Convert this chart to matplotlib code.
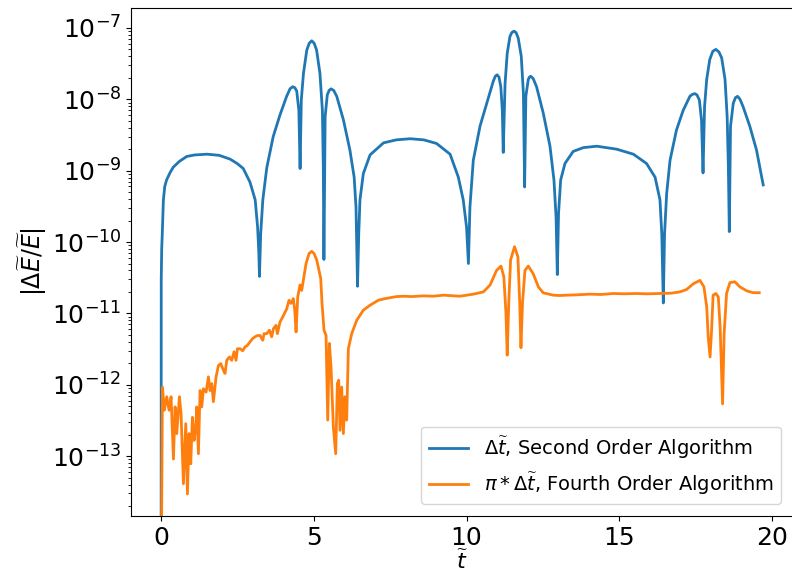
import matplotlib
matplotlib.use("Agg")
import matplotlib.pyplot as plt

# Second order algorithm, step dt
blue_t = [0.0, 0.005, 0.02, 0.04, 0.075, 0.12, 0.18, 0.3, 0.4, 0.6, 0.84, 1.1, 1.5, 1.9,
          2.26, 2.5, 2.69, 2.91, 3.08, 3.16, 3.2, 3.22,
          3.26, 3.33, 3.46, 3.67, 3.89, 4.11, 4.22, 4.31, 4.38, 4.44, 4.51, 4.55,
          4.59, 4.66, 4.77, 4.85, 4.93, 5.01, 5.09, 5.2, 5.28, 5.31, 5.33,
          5.37, 5.44, 5.50, 5.56, 5.65, 5.75, 5.97, 6.18, 6.32, 6.38, 6.43,
          6.47, 6.51, 6.62, 6.84, 7.28, 7.7, 8.15, 8.6, 9.02, 9.46, 9.73, 9.89, 10.0, 10.06,
          10.11, 10.22, 10.44, 10.66, 10.87, 10.94, 11.0, 11.06, 11.12, 11.17, 11.2,
          11.26, 11.33, 11.42, 11.48, 11.55, 11.62, 11.69, 11.79, 11.86, 11.9,
          11.94, 12.02, 12.06, 12.1, 12.18, 12.29, 12.51, 12.73, 12.86, 12.93, 12.97,
          13.01, 13.08, 13.22, 13.49, 13.82, 14.26, 14.91, 15.46, 15.89, 16.17, 16.33, 16.39, 16.44,
          16.48, 16.55, 16.66, 16.87, 17.09, 17.31, 17.39, 17.47, 17.54, 17.62, 17.69, 17.74,
          17.79, 17.86, 17.96, 18.06, 18.16, 18.26, 18.35, 18.46, 18.53, 18.57, 18.6,
          18.64, 18.73, 18.8, 18.87, 18.95, 19.05, 19.27, 19.49, 19.71]
blue_e = [1e-16, 3e-11, 8e-11, 1.35e-10, 3.9e-10, 6e-10, 7.4e-10, 9.5e-10, 1.12e-9, 1.35e-9,
          1.58e-9, 1.66e-9, 1.70e-9, 1.64e-9,
          1.45e-9, 1.25e-9, 1.07e-9, 6.9e-10, 3.9e-10, 1.6e-10, 7e-11, 3.3e-11,
          1.3e-10, 3.9e-10, 1.1e-9, 3.0e-9, 6.0e-9, 1.1e-8, 1.4e-8, 1.5e-8, 1.45e-8, 1.3e-8, 7e-9, 1.07e-9,
          9.8e-9, 2.3e-8, 4.9e-8, 6.1e-8, 6.6e-8, 6.1e-8, 4.9e-8, 2.3e-8, 7e-9, 1.1e-9, 5.7e-11,
          5.7e-9, 1.15e-8, 1.33e-8, 1.4e-8, 1.33e-8, 1.1e-8, 5.1e-9, 1.95e-9, 8.1e-10, 3.1e-10, 2.4e-11,
          1.3e-10, 3.9e-10, 9.1e-10, 1.66e-9, 2.45e-9, 2.7e-9, 2.8e-9, 2.7e-9, 2.4e-9, 1.7e-9,
          8.1e-10, 3.9e-10, 1.6e-10, 5e-11,
          3.1e-10, 1.4e-9, 4.2e-9, 8.8e-9, 1.77e-8, 2.1e-8, 2.2e-8, 2.05e-8, 1.5e-8, 7e-9, 1.8e-9,
          1.67e-8, 4.4e-8, 7.6e-8, 8.6e-8, 9e-8, 8.6e-8, 7.2e-8, 4e-8, 1.2e-8, 5.9e-10,
          1.1e-8, 1.9e-8, 2.05e-8, 2.1e-8, 1.95e-8, 1.5e-8, 6.4e-9, 2.2e-9, 7.4e-10, 2.2e-10, 3.5e-11,
          2.5e-10, 7.4e-10, 1.26e-9, 1.86e-9, 2.1e-9, 2.2e-9, 2.0e-9, 1.7e-9, 1.26e-9, 8.1e-10,
          3.9e-10, 1.3e-10, 1.4e-11,
          1.3e-10, 4.8e-10, 1.4e-9, 3.7e-9, 7e-9, 1.1e-8, 1.17e-8, 1.2e-8, 1.15e-8, 9.8e-9, 5.1e-9, 9.3e-10,
          7.9e-9, 1.9e-8, 3.6e-8, 4.7e-8, 5e-8, 4.6e-8, 3.8e-8, 1.9e-8, 5.7e-9, 1.1e-9, 1.4e-10,
          4.2e-9, 8.8e-9, 1.05e-8, 1.1e-8, 1.0e-8, 7.9e-9, 4.2e-9, 1.95e-9, 6.3e-10]

# Fourth order algorithm, step pi*dt
orange_t = [0.0, 0.044, 0.109, 0.185, 0.262, 0.327, 0.404, 0.458, 0.513, 0.60, 0.654, 0.731,
            0.807, 0.862, 0.916, 0.971, 1.025, 1.08, 1.134, 1.167, 1.222, 1.276, 1.331, 1.385,
            1.473, 1.549, 1.603, 1.658, 1.712, 1.80, 1.876, 1.952, 2.04, 2.094, 2.149, 2.236,
            2.312, 2.389, 2.454, 2.498, 2.585, 2.672, 2.749, 2.825, 2.912, 3.0, 3.076, 3.152,
            3.24, 3.327, 3.37, 3.458, 3.545, 3.621, 3.676, 3.763, 3.807, 3.894, 3.981, 4.058,
            4.112, 4.188, 4.254, 4.33, 4.374, 4.418, 4.472, 4.548, 4.603, 4.657, 4.745, 4.843,
            4.93, 5.007, 5.094, 5.17, 5.225, 5.268, 5.334, 5.40, 5.454, 5.508, 5.563, 5.639,
            5.716, 5.77, 5.814, 5.857, 5.912, 5.966, 6.021, 6.075, 6.13, 6.24, 6.403, 6.621,
            6.839, 7.112, 7.3, 7.494, 7.7, 7.93, 8.2, 8.584, 8.9, 9.24, 9.5, 9.78, 10.0, 10.22,
            10.55, 10.77, 10.98, 11.125, 11.22, 11.29, 11.33, 11.38, 11.44, 11.57, 11.68, 11.74,
            11.78, 11.83, 11.91, 12.02, 12.18, 12.35, 12.51, 12.84, 13.05, 13.28, 13.6, 14.04,
            14.4, 14.8, 15.2, 15.56, 15.9, 16.33, 16.7, 16.98, 17.2, 17.42, 17.64, 17.77, 17.86,
            17.91, 17.97, 18.02, 18.07, 18.16, 18.24, 18.30, 18.38, 18.43, 18.51, 18.62, 18.78,
            18.95, 19.17, 19.38, 19.58]
orange_e = [1e-15, 9.3e-13, 4.4e-13, 6.8e-13, 4.4e-13, 6.8e-13, 9.1e-14, 4.9e-13, 2.07e-13,
            6.8e-13, 3.9e-13, 4.1e-14, 2.85e-13, 2.95e-14, 2.07e-13, 7.8e-14, 3.5e-13, 1.66e-13,
            2.55e-13, 4.9e-13, 1.08e-13, 8.3e-13, 4.9e-13, 8.8e-13, 7.9e-13, 1.29e-12, 8.3e-13,
            1.04e-12, 5.8e-13, 1.29e-12, 1.86e-12, 1.98e-12, 1.6e-12, 1.44e-12, 2.2e-12, 2.45e-12,
            2.2e-12, 2.9e-12, 2.2e-12, 3.2e-12, 3.2e-12, 3.0e-12, 3.4e-12, 3.56e-12, 4.0e-12,
            4.45e-12, 4.7e-12, 4.9e-12, 4.9e-12, 4.2e-12, 5.2e-12, 5.2e-12, 5.8e-12, 4.7e-12,
            6.1e-12, 6.8e-12, 5.2e-12, 7.6e-12, 8.9e-12, 1.04e-11, 1.16e-11, 1.53e-11, 1.38e-11,
            1.61e-11, 1.11e-11, 5.5e-12, 1.7e-11, 2.5e-11, 2.1e-11, 2.9e-11, 5.0e-11, 6.9e-11,
            7.4e-11, 6.9e-11, 5.6e-11, 4.0e-11, 3.1e-11, 1.38e-11, 5.8e-12, 4.9e-12, 3.2e-13,
            3.8e-12, 1.77e-12, 2.55e-13, 1.08e-13, 1.04e-12, 1.16e-12, 2.3e-13, 9.3e-13, 2.07e-13,
            6.8e-13, 3.2e-13, 3.2e-12, 5.2e-12, 8.0e-12, 1.11e-11, 1.3e-11, 1.53e-11, 1.6e-11,
            1.66e-11, 1.72e-11, 1.74e-11, 1.72e-11, 1.76e-11, 1.74e-11, 1.8e-11, 1.77e-11,
            1.74e-11, 1.8e-11, 1.86e-11, 2.0e-11, 2.5e-11, 4.0e-11, 4.6e-11, 3.25e-11, 9.9e-12,
            2.6e-12, 1.38e-11, 5.6e-11, 8.6e-11, 6.2e-11, 1.38e-11, 3.3e-12, 1.38e-11, 4.0e-11,
            4.6e-11, 3.6e-11, 2.35e-11, 1.94e-11, 1.8e-11, 1.78e-11, 1.8e-11, 1.82e-11, 1.86e-11,
            1.84e-11, 1.9e-11, 1.88e-11, 1.9e-11, 1.88e-11, 1.9e-11, 1.92e-11, 2.0e-11, 2.16e-11,
            2.6e-11, 2.9e-11, 2.35e-11, 1.23e-11, 4.7e-12, 2.45e-12, 5.8e-12, 1.8e-11, 1.9e-11,
            1.7e-11, 6.4e-12, 5.4e-13, 5.2e-12, 1.9e-11, 2.7e-11, 2.77e-11, 2.35e-11, 2.07e-11,
            1.95e-11, 1.95e-11]

labels = [r"$\Delta\widetilde{t}$, Second Order Algorithm",
          r"$\pi*\Delta\widetilde{t}$, Fourth Order Algorithm"]
x_ticks = [0, 5, 10, 15, 20]
y_ticks = [1e-13, 1e-12, 1e-11, 1e-10, 1e-9, 1e-8, 1e-7]

fig = plt.figure(figsize=(7.92, 5.77), dpi=100)
ax = fig.add_axes([131 / 792, 61 / 577, 662 / 792, 508 / 577])

ax.plot(blue_t, blue_e, color="#1f77b4", linewidth=2, label=labels[0])
ax.plot(orange_t, orange_e, color="#ff7f0e", linewidth=2, label=labels[1])

ax.set_yscale("log")
ax.set_xlim(-0.985, 20.685)
ax.set_ylim(1.45e-14, 1.9e-7)
ax.set_xticks(x_ticks)
ax.set_yticks(y_ticks)
ax.tick_params(labelsize=18)
ax.set_xlabel(r"$\widetilde{t}$", fontsize=16, labelpad=0)
ax.set_ylabel(r"$|\Delta\widetilde{E}/\widetilde{E}|$", fontsize=17, labelpad=2)
ax.legend(loc="lower right", fontsize=14, borderaxespad=0.6)

fig.savefig("out.png", dpi=100)
